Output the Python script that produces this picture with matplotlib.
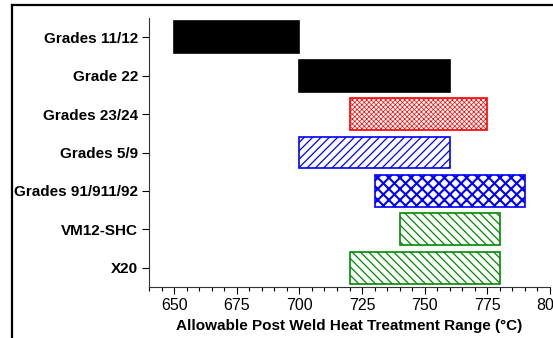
import matplotlib
matplotlib.use("Agg")
import matplotlib.pyplot as plt
from matplotlib.ticker import MultipleLocator
from matplotlib.lines import Line2D

categories = ["Grades 11/12", "Grade 22", "Grades 23/24", "Grades 5/9",
              "Grades 91/911/92", "VM12-SHC", "X20"]
t_min = [650, 700, 720, 700, 730, 740, 720]
t_max = [700, 760, 775, 760, 790, 780, 780]
face_colors = ["black", "black", "white", "white", "white", "white", "white"]
edge_colors = ["black", "black", "#ff0000", "#0000ff", "#0000ff", "#008a00", "#008a00"]
hatches = [None, None, "xxxxxxx", "////", "xxx", "\\\\\\\\", "\\\\\\\\"]
hatch_lw = [1.0, 1.0, 0.5, 0.9, 1.5, 0.9, 0.9]
xlabel = "Allowable Post Weld Heat Treatment Range (\u00b0C)"

plt.rcParams["font.family"] = ["Liberation Sans", "DejaVu Sans"]

fig = plt.figure(figsize=(5.53, 3.38), dpi=100)
ax = fig.add_axes([149/553, 1-287/338, (550-149)/553, (287-18)/338])

ypos = list(range(len(categories)))
widths = [b - a for a, b in zip(t_min, t_max)]
for i in ypos:
    plt.rcParams["hatch.color"] = edge_colors[i]
    plt.rcParams["hatch.linewidth"] = hatch_lw[i]
    bars = ax.barh(ypos[i], widths[i], left=t_min[i], height=0.83,
                   color=face_colors[i], edgecolor=edge_colors[i],
                   hatch=hatches[i], linewidth=1.2)
    for b in bars:
        try:
            b.set_hatch_linewidth(hatch_lw[i])
        except Exception:
            pass

ax.set_xlim(640, 800)
ax.set_ylim(6.5, -0.5)
ax.set_yticks(ypos)
ax.set_yticklabels(categories, fontsize=11, fontweight="bold")
ax.xaxis.set_major_locator(MultipleLocator(25))
ax.xaxis.set_minor_locator(MultipleLocator(5))
ax.tick_params(axis="x", which="major", length=5, width=0.8, labelsize=11.5, pad=3)
ax.tick_params(axis="x", which="minor", length=3, width=0.8)
ax.tick_params(axis="y", which="major", length=5, width=0.8, pad=3)
ax.spines["top"].set_visible(False)
ax.spines["right"].set_visible(False)
for s in ["left", "bottom"]:
    ax.spines[s].set_linewidth(0.8)
    ax.spines[s].set_color("#333333")
ax.set_xlabel(xlabel, fontsize=11, fontweight="bold", labelpad=4)

# page frame lines
fig.add_artist(Line2D([12/553, 12/553], [0, 1-5/338], transform=fig.transFigure,
                      color="black", linewidth=1.6))
fig.add_artist(Line2D([12/553, 1], [1-5/338, 1-5/338], transform=fig.transFigure,
                      color="black", linewidth=1.6))

fig.savefig("out.png", dpi=100)
